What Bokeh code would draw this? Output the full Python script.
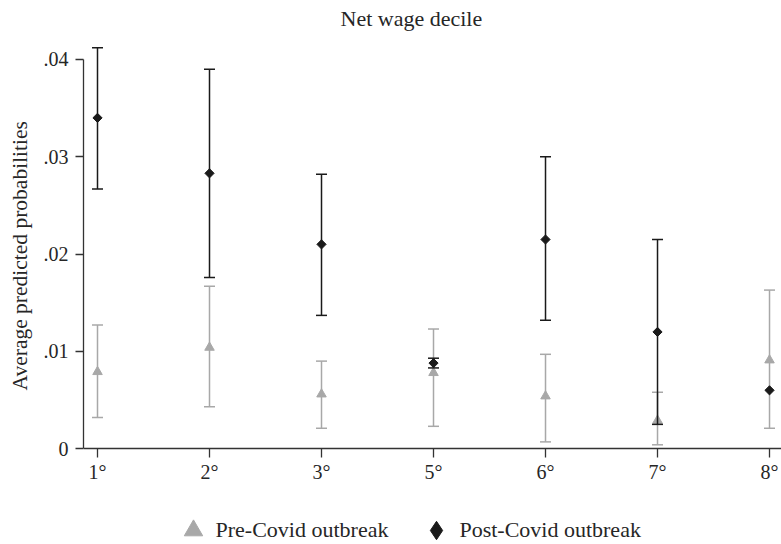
import math
from bokeh.plotting import figure
from bokeh.models import ColumnDataSource, FixedTicker, Legend, LegendItem, Title
from bokeh.embed import file_html
from bokeh.resources import INLINE

# ---- data ----
categories = ["1°", "2°", "3°", "5°", "6°", "7°", "8°"]
pre_val = [0.0079, 0.0104, 0.0056, 0.0078, 0.0054, 0.0029, 0.0091]
pre_lo = [0.0032, 0.0043, 0.0021, 0.0023, 0.0007, 0.0004, 0.0021]
pre_hi = [0.0127, 0.0167, 0.0090, 0.0123, 0.0097, 0.0058, 0.0163]
post_val = [0.0340, 0.0283, 0.0210, 0.0088, 0.0215, 0.0120, 0.0060]
post_lo = [0.0267, 0.0176, 0.0137, 0.0083, 0.0132, 0.0025, float("nan")]
post_hi = [0.0412, 0.0390, 0.0282, 0.0093, 0.0300, 0.0215, float("nan")]
y_ticks = [0, 0.01, 0.02, 0.03, 0.04]
y_tick_labels = ["0", ".01", ".02", ".03", ".04"]

FONT = "Liberation Serif"
TEXT = "#262626"
GRAY = "#a8a8a8"
BLACK = "#1a1a1a"

xs = list(range(len(categories)))

pre_src = ColumnDataSource(dict(x=xs, y=pre_val, lo=pre_lo, hi=pre_hi))
ok = [i for i in xs if not (math.isnan(post_lo[i]) or math.isnan(post_hi[i]))]
post_src = ColumnDataSource(dict(x=xs, y=post_val))
post_ci = ColumnDataSource(dict(x=[xs[i] for i in ok], lo=[post_lo[i] for i in ok],
                                hi=[post_hi[i] for i in ok]))

p = figure(width=781, height=544, output_backend="svg", toolbar_location=None,
           x_range=(-0.125, 6.107), y_range=(-0.009846, 0.04267),
           min_border_left=83, min_border_right=0, min_border_top=32, min_border_bottom=0)

p.title.text = "Net wage decile"
p.title.text_font = FONT
p.title.text_font_size = "22px"
p.title.text_font_style = "normal"
p.title.text_color = TEXT
p.title.align = "left"
p.title.offset = 257
p.title.standoff = 6
p.title.vertical_align = "bottom"

p.xgrid.visible = False
p.ygrid.visible = False
p.outline_line_color = None
p.background_fill_color = "white"
p.border_fill_color = "white"

# pre-covid CI + markers
p.segment(x0="x", y0="lo", x1="x", y1="hi", source=pre_src, line_color=GRAY, line_width=1.5)
p.scatter(x="x", y="lo", source=pre_src, marker="dash", size=11, line_color=GRAY, line_width=1.5)
p.scatter(x="x", y="hi", source=pre_src, marker="dash", size=11, line_color=GRAY, line_width=1.5)
r_pre = p.scatter(x="x", y="y", source=pre_src, marker="triangle", size=9.5,
                  fill_color=GRAY, line_color=GRAY)

# post-covid CI + markers
p.segment(x0="x", y0="lo", x1="x", y1="hi", source=post_ci, line_color=BLACK, line_width=1.5)
p.scatter(x="x", y="lo", source=post_ci, marker="dash", size=11, line_color=BLACK, line_width=1.5)
p.scatter(x="x", y="hi", source=post_ci, marker="dash", size=11, line_color=BLACK, line_width=1.5)
p.scatter(x="x", y="y", source=post_src, marker="square", size=6.5, angle=math.pi / 4,
          fill_color=BLACK, line_color=BLACK)
# legend-only glyph (no visible point in the plot)
r_post_leg = p.scatter(x=[float("nan")], y=[float("nan")], marker="diamond",
                       fill_color=BLACK, line_color=BLACK)

# axes
for ax in (p.xaxis[0], p.yaxis[0]):
    ax.axis_line_color = "#333333"
    ax.axis_line_width = 1.3
    ax.major_tick_line_color = "#333333"
    ax.major_tick_line_width = 1.3
    ax.minor_tick_line_color = None
    ax.major_tick_in = 0
    ax.major_label_text_font = FONT
    ax.major_label_text_font_size = "20px"
    ax.major_label_text_color = TEXT

p.xaxis.ticker = FixedTicker(ticks=xs)
p.xaxis.major_label_overrides = {i: c for i, c in zip(xs, categories)}
p.xaxis.major_tick_out = 9
p.xaxis.major_label_standoff = 3
p.xaxis.fixed_location = 0

p.yaxis.ticker = FixedTicker(ticks=y_ticks)
p.yaxis.major_label_overrides = {t: s for t, s in zip(y_ticks, y_tick_labels)}
p.yaxis.bounds = (0, 0.04)
p.yaxis.major_tick_out = 8
p.yaxis.major_label_standoff = 7

ylab = Title(text="Average predicted probabilities", text_font=FONT,
             text_font_size="21.5px", text_font_style="normal", text_color=TEXT,
             align="left", offset=154, standoff=14, vertical_align="top")
p.add_layout(ylab, "left")

legend = Legend(items=[LegendItem(label="Pre-Covid outbreak", renderers=[r_pre]),
                       LegendItem(label="Post-Covid outbreak", renderers=[r_post_leg])],
                location=(86.5, -9), orientation="horizontal",
                glyph_width=46, glyph_height=46, label_standoff=0, spacing=25,
                padding=0, margin=0, border_line_color=None, background_fill_alpha=0,
                label_text_font=FONT, label_text_font_size="22px", label_text_color=TEXT)
p.add_layout(legend)

open("out.html", "w").write(file_html(p, INLINE))
